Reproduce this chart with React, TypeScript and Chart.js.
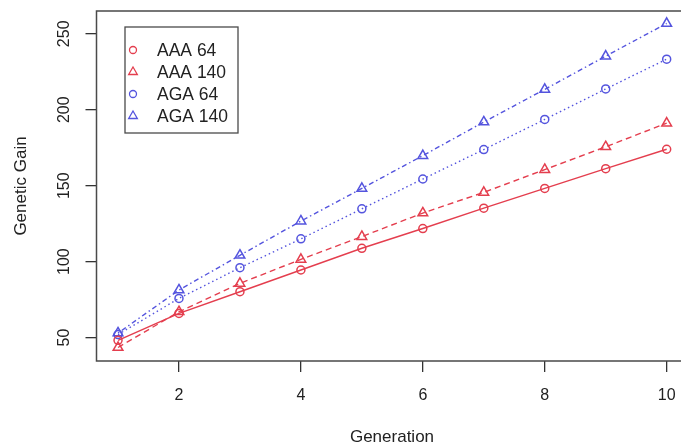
import React, { useEffect, useRef } from "react";
import { Chart, registerables } from "chart.js";

Chart.register(...registerables);

const generations = [1, 2, 3, 4, 5, 6, 7, 8, 9, 10];
const aaa64 = [48.2, 65.9, 80.2, 94.5, 108.8, 121.8, 135.2, 148.2, 161.2, 174.0];
const aaa140 = [43.5, 67.0, 85.7, 101.5, 116.5, 132.0, 145.6, 160.6, 175.6, 191.2];
const aga64 = [52.0, 75.8, 96.0, 115.0, 134.8, 154.4, 173.8, 193.6, 213.7, 233.3];
const aga140 = [53.0, 81.3, 104.2, 126.7, 148.2, 169.8, 191.9, 213.4, 235.3, 256.8];
const xTicks = [2, 4, 6, 8, 10];
const yTicks = [50, 100, 150, 200, 250];
const seriesNames = ["AAA 64", "AAA 140", "AGA 64", "AGA 140"];
const xTitle = "Generation";
const yTitle = "Genetic Gain";

const RED = "rgb(228,62,78)";
const BLUE = "rgb(84,84,222)";
const FONT = '"Liberation Sans", Arial, Helvetica, sans-serif';

const seriesStyles = [
  { color: RED, dash: [], shape: "circle" },
  { color: RED, dash: [6, 4], shape: "triangle" },
  { color: BLUE, dash: [1.5, 3], shape: "circle" },
  { color: BLUE, dash: [1.5, 3, 5, 3], shape: "triangle" },
];

function drawShape(ctx: CanvasRenderingContext2D, shape: string, x: number, y: number, r: number) {
  ctx.beginPath();
  if (shape === "circle") {
    ctx.arc(x, y, r, 0, Math.PI * 2);
  } else {
    ctx.moveTo(x, y - r);
    ctx.lineTo(x + r * 0.866, y + r * 0.5);
    ctx.lineTo(x - r * 0.866, y + r * 0.5);
    ctx.closePath();
  }
  ctx.stroke();
}

const decorPlugin = {
  id: "decor",
  afterDraw(chart: any) {
    const ctx: CanvasRenderingContext2D = chart.ctx;
    const { left, top, right, bottom } = chart.chartArea;
    const xs = chart.scales.x;
    const ys = chart.scales.y;
    ctx.save();
    // frame (left, top, bottom)
    ctx.strokeStyle = "#4a4a4a";
    ctx.lineWidth = 1.5;
    ctx.setLineDash([]);
    ctx.beginPath();
    ctx.moveTo(right + 2, top);
    ctx.lineTo(left, top);
    ctx.lineTo(left, bottom);
    ctx.lineTo(right + 2, bottom);
    ctx.stroke();

    ctx.fillStyle = "#222";
    // x tick labels
    ctx.font = `16px ${FONT}`;
    ctx.textAlign = "center";
    ctx.textBaseline = "middle";
    xTicks.forEach((v) => {
      ctx.fillText(String(v), xs.getPixelForValue(v), 396);
    });
    // y tick labels rotated
    yTicks.forEach((v) => {
      ctx.save();
      ctx.translate(65, ys.getPixelForValue(v));
      ctx.rotate(-Math.PI / 2);
      ctx.fillText(String(v), 0, 0);
      ctx.restore();
    });
    // axis titles
    ctx.font = `17px ${FONT}`;
    ctx.fillText(xTitle, 392, 437);
    ctx.save();
    ctx.translate(21, (top + bottom) / 2);
    ctx.rotate(-Math.PI / 2);
    ctx.fillText(yTitle, 0, 0);
    ctx.restore();

    // legend
    const bx = 125, by = 27, bw = 113, bh = 106;
    ctx.fillStyle = "#fff";
    ctx.fillRect(bx, by, bw, bh);
    ctx.strokeStyle = "#4a4a4a";
    ctx.lineWidth = 1.3;
    ctx.strokeRect(bx, by, bw, bh);
    ctx.font = `17.5px ${FONT}`;
    ctx.textAlign = "left";
    ctx.fillStyle = "#222";
    const rowY = [50, 72, 94, 116];
    seriesNames.forEach((name, i) => {
      const st = seriesStyles[i];
      ctx.strokeStyle = st.color;
      ctx.lineWidth = 1.3;
      ctx.setLineDash([]);
      drawShape(ctx, st.shape, 133, rowY[i], st.shape === "circle" ? 3.5 : 5);
      ctx.fillStyle = "#222";
      ctx.fillText(name, 157, rowY[i] + 1);
    });
    ctx.restore();
  },
};

export default function App() {
  const ref = useRef<HTMLCanvasElement | null>(null);
  useEffect(() => {
    if (!ref.current) return;
    const series = [aaa64, aaa140, aga64, aga140];
    const chart = new Chart(ref.current, {
      type: "line",
      data: {
        datasets: series.map((arr, i) => ({
          label: seriesNames[i],
          data: generations.map((g, j) => ({ x: g, y: arr[j] })),
          borderColor: seriesStyles[i].color,
          backgroundColor: "rgba(0,0,0,0)",
          borderWidth: 1.4,
          borderDash: seriesStyles[i].dash,
          pointStyle: seriesStyles[i].shape as any,
          pointRadius: seriesStyles[i].shape === "circle" ? 4 : 5.6,
          pointBorderWidth: 1.5,
          pointBorderColor: seriesStyles[i].color,
          pointBackgroundColor: "rgba(0,0,0,0)",
          tension: 0,
          fill: false,
          clip: false as any,
        })),
      },
      options: {
        responsive: false,
        animation: false,
        devicePixelRatio: 1,
        layout: { autoPadding: false, padding: { top: 11, right: 0, left: 0, bottom: 0 } },
        plugins: { legend: { display: false }, tooltip: { enabled: false }, title: { display: false } },
        scales: {
          x: {
            type: "linear",
            min: 0.647,
            max: 10.235,
            afterBuildTicks: (s: any) => {
              s.ticks = xTicks.map((v) => ({ value: v }));
            },
            afterFit: (s: any) => {
              s.height = 85;
            },
            ticks: { display: false },
            border: { display: false },
            grid: { drawOnChartArea: false, drawTicks: true, tickLength: 11, color: "#333", lineWidth: 1.3 },
          },
          y: {
            type: "linear",
            min: 34.6,
            max: 265,
            afterBuildTicks: (s: any) => {
              s.ticks = yTicks.map((v) => ({ value: v }));
            },
            afterFit: (s: any) => {
              s.width = 96.5;
            },
            ticks: { display: false },
            border: { display: false },
            grid: { drawOnChartArea: false, drawTicks: true, tickLength: 11, color: "#333", lineWidth: 1.3 },
          },
        },
      },
      plugins: [decorPlugin],
    } as any);
    return () => chart.destroy();
  }, []);
  return (
    <div style={{ position: "fixed", left: 0, top: 0, width: 681, height: 446, background: "#fff" }}>
      <canvas ref={ref} width={681} height={446} style={{ display: "block" }} />
    </div>
  );
}
